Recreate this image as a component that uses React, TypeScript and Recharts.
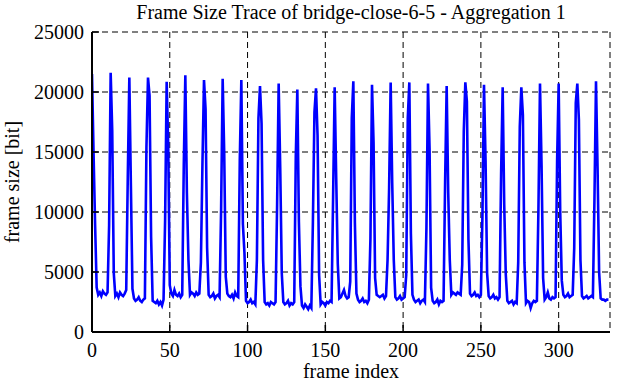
import React from "react";
import { LineChart, Line, XAxis, YAxis, CartesianGrid } from "recharts";

const chartTitle = "Frame Size Trace of bridge-close-6-5 - Aggregation 1";
const xLabel = "frame index";
const yLabel = "frame size [bit]";
const xTicks = [0, 50, 100, 150, 200, 250, 300];
const yTicks = [0, 5000, 10000, 15000, 20000, 25000];
const xMax = 333;
const yMax = 25000;

// frame sizes in bits, one row per group of 12 frames
const frameSizes: number[] = [
  21500, 14900, 8900, 3700, 3100, 3300, 3000, 3400, 3200, 3100, 3300, 8900,
  21600, 16800, 4900, 3000, 3200, 2900, 3300, 3100, 3000, 3200, 3500, 12900,
  21200, 12200, 3600, 2800, 2600, 2700, 2900, 2600, 2500, 2700, 2800, 15400,
  21200, 19700, 7900, 2600, 2500, 2400, 2600, 2300, 2500, 2200, 2700, 9300,
  20850, 15500, 3900, 3200, 3000, 3500, 3100, 3000, 3200, 2900, 3100, 13900,
  21400, 11600, 6000, 3100, 3300, 3200, 3000, 3300, 3100, 3200, 5800, 14000,
  21000, 18600, 7000, 3100, 2900, 3000, 3200, 2800, 3000, 3100, 2900, 10200,
  21100, 14900, 4600, 3200, 3000, 2900, 3100, 2800, 3300, 3000, 2900, 14300,
  21000, 9000, 6600, 2600, 2400, 2500, 2700, 2400, 2500, 2300, 6000, 17800,
  20500, 17400, 6000, 2500, 2300, 2400, 2200, 2500, 2400, 2300, 2500, 10600,
  20700, 13700, 4900, 2500, 2300, 2400, 2600, 2200, 2400, 2300, 2500, 14600,
  20200, 9200, 3800, 2200, 2000, 2300, 2100, 1900, 2200, 2000, 9100, 18300,
  20300, 16400, 4750, 2300, 2500, 2400, 2200, 2500, 2400, 2600, 2500, 11300,
  20400, 12800, 5700, 2800, 2900, 3200, 3500, 3000, 2800, 2900, 4200, 17800,
  20900, 9100, 3200, 2700, 2500, 2600, 2800, 2500, 2600, 2400, 2700, 7800,
  20600, 15800, 4500, 3100, 3000, 2900, 3000, 3100, 2800, 3000, 6000, 12000,
  20800, 12400, 6000, 2900, 2700, 2800, 3000, 2700, 2800, 2900, 4750, 17800,
  20800, 8200, 3100, 2700, 2500, 2600, 2700, 2400, 2600, 2700, 2500, 8700,
  20700, 15300, 3700, 2600, 2400, 2500, 2700, 2300, 2600, 2500, 2600, 12500,
  20500, 11600, 6000, 3100, 3300, 3200, 3100, 3300, 3200, 3100, 5600, 16700,
  20800, 19200, 7700, 3200, 3000, 3100, 3300, 3000, 3100, 2900, 3100, 9700,
  20600, 14300, 4900, 3000, 2800, 2900, 3100, 2800, 2900, 2700, 2900, 13200,
  20400, 10600, 4800, 2600, 2400, 2500, 2600, 2300, 2500, 2400, 5800, 17100,
  20400, 18100, 5800, 2400, 2600, 2500, 2000, 2400, 2600, 2500, 2600, 10300,
  20700, 13900, 4500, 2700, 2900, 3300, 2800, 2700, 2900, 2800, 2900, 14300,
  20700, 10000, 4300, 3100, 2900, 3000, 3200, 2900, 3000, 3100, 7000, 19100,
  20700, 17700, 6000, 3000, 2800, 2900, 3000, 2800, 2900, 3000, 2900, 11000,
  20900, 13700, 5000, 2800, 2700, 2700, 2600, 2700, 2700,
];

const data = frameSizes.map((size, frame) => ({ frame, size }));

const FONT = "Liberation Serif";
const FS = 20;
const TICK_LEN = 7;

const T = (p: any) => (
  <text
    x={p.x}
    y={p.y}
    textAnchor={p.anchor}
    transform={p.transform}
    fontFamily={FONT}
    fontSize={FS}
    fill="#000"
    style={{ fontFamily: FONT, fontSize: FS }}
  >
    {p.children}
  </text>
);

const BottomTick = (props: any) => {
  const { x, y, payload } = props;
  return (
    <g>
      <line x1={x} x2={x} y1={y} y2={y - TICK_LEN} stroke="#000" strokeWidth={1.5} />
      <T x={x} y={y + 25} anchor="middle">{String(payload.value)}</T>
    </g>
  );
};

const TopTick = (props: any) => {
  const { x, y } = props;
  return <line x1={x} x2={x} y1={y} y2={y + TICK_LEN} stroke="#000" strokeWidth={1.5} />;
};

const LeftTick = (props: any) => {
  const { x, y, payload } = props;
  return (
    <g>
      <line x1={x} x2={x + TICK_LEN} y1={y} y2={y} stroke="#000" strokeWidth={1.5} />
      <T x={x - 8} y={y + 7} anchor="end">{String(payload.value)}</T>
    </g>
  );
};

const RightTick = (props: any) => {
  const { x, y } = props;
  return <line x1={x} x2={x - TICK_LEN} y1={y} y2={y} stroke="#000" strokeWidth={1.5} />;
};

const XLabel = (props: any) => {
  const vb = props.viewBox;
  return (
    <T x={vb.x + vb.width / 2} y={vb.y + vb.height - 4} anchor="middle">{xLabel}</T>
  );
};

const YLabel = (props: any) => {
  const vb = props.viewBox;
  const cx = 19;
  const cy = vb.y + vb.height / 2;
  return (
    <T x={cx} y={cy} transform={`rotate(-90 ${cx} ${cy})`} anchor="middle">{yLabel}</T>
  );
};

export default function App() {
  const axisLine = { stroke: "#000", strokeWidth: 2 };
  return (
    <div
      style={{
        position: "absolute",
        left: 0,
        top: 0,
        width: 617,
        height: 382,
        background: "#fff",
        fontFamily: FONT,
      }}
    >
      <div
        style={{
          position: "absolute",
          left: 92,
          width: 518,
          top: 2,
          textAlign: "center",
          fontFamily: FONT,
          fontSize: FS,
          lineHeight: "20px",
          color: "#000",
          whiteSpace: "nowrap",
        }}
      >
        {chartTitle}
      </div>
      <LineChart
        width={617}
        height={382}
        data={data}
        margin={{ top: 32, right: 7, bottom: 0, left: 0 }}
        style={{ fontFamily: FONT }}
      >
        <CartesianGrid stroke="#000" strokeWidth={1} strokeDasharray="6 4" />
        <XAxis
          dataKey="frame"
          type="number"
          domain={[0, xMax]}
          ticks={xTicks}
          interval={0}
          height={50}
          tickSize={0}
          tickMargin={0}
          tickLine={false}
          axisLine={axisLine}
          tick={BottomTick}
          label={XLabel}
          allowDataOverflow
        />
        <XAxis
          xAxisId="top"
          orientation="top"
          type="number"
          domain={[0, xMax]}
          ticks={xTicks}
          interval={0}
          height={0}
          tickSize={0}
          tickMargin={0}
          tickLine={false}
          axisLine={axisLine}
          tick={TopTick}
          allowDataOverflow
        />
        <YAxis
          type="number"
          domain={[0, yMax]}
          ticks={yTicks}
          interval={0}
          width={92}
          tickSize={0}
          tickMargin={0}
          tickLine={false}
          axisLine={axisLine}
          tick={LeftTick}
          label={YLabel}
          allowDataOverflow
        />
        <YAxis
          yAxisId="right"
          orientation="right"
          type="number"
          domain={[0, yMax]}
          ticks={yTicks}
          interval={0}
          width={0}
          tickSize={0}
          tickMargin={0}
          tickLine={false}
          axisLine={axisLine}
          tick={RightTick}
          allowDataOverflow
        />
        <Line
          type="linear"
          dataKey="size"
          stroke="#0000ff"
          strokeWidth={2.6}
          dot={false}
          isAnimationActive={false}
        />
      </LineChart>
    </div>
  );
}
